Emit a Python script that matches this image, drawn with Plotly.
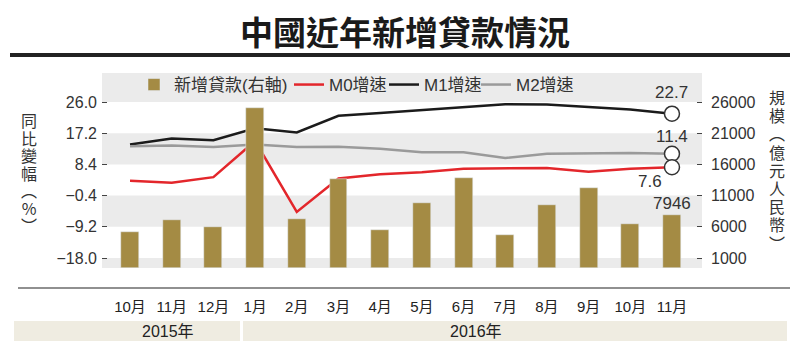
import plotly.graph_objects as go

# ---------------- data ----------------
months = ["10月", "11月", "12月", "1月", "2月", "3月", "4月", "5月", "6月", "7月", "8月", "9月", "10月", "11月"]
years = ["2015年", "2016年"]
new_loans = [5136, 7089, 5978, 25100, 7266, 13700, 5556, 9855, 13800, 4636, 9487, 12200, 6513, 7946]
m0_growth = [3.8, 3.2, 4.8, 15.0, -5.0, 4.4, 5.6, 6.2, 7.2, 7.2, 7.4, 6.3, 7.2, 7.6]
m1_growth = [14.0, 15.7, 15.2, 18.6, 17.4, 22.1, 22.9, 23.7, 24.6, 25.4, 25.3, 24.7, 23.9, 22.7]
m2_growth = [13.5, 13.7, 13.3, 14.0, 13.3, 13.4, 12.8, 11.8, 11.8, 10.2, 11.4, 11.5, 11.6, 11.4]
left_ticks = [-18.0, -9.2, -0.4, 8.4, 17.2, 26.0]
right_ticks = [1000, 6000, 11000, 16000, 21000, 26000]
title_text = "中國近年新增貸款情況"
left_title = "同比變幅︵%︶"
right_title = "規模︵億元人民幣︶"
legend_names = ["新增貸款(右軸)", "M0增速", "M1增速", "M2增速"]

# ---------------- styling ----------------
W, H = 800, 351
PL, PR, PT, PB = 102, 702, 73, 268  # plot area in pixels
BAR = "#a48b44"
RED = "#e3262b"
BLACK = "#1b1b1b"
GREY = "#9a9a9a"
BAND = "#ebebeb"
TXT = "#333333"
LAT = "Liberation Sans, Noto Sans CJK TC, sans-serif"
CJK = "Noto Sans CJK TC, sans-serif"

YL = [-20.82, 34.18]
YR = [-602, 30647]
XR = [-0.672, 13.72]


def px(x):
    return (x - PL) / (PR - PL)


def py(y):
    return (PB - y) / (PB - PT)


x = list(range(len(months)))

fig = go.Figure()
# bars start at the bottom of the plot area (axis minimum)
fig.add_trace(go.Bar(x=x, y=[v - YR[0] for v in new_loans], base=YR[0], name=legend_names[0],
                     marker_color=BAR, width=0.43, yaxis="y2", showlegend=True, legendwidth=110,
                     customdata=new_loans, hovertemplate="%{customdata}<extra></extra>"))
fig.add_trace(go.Scatter(x=x, y=m0_growth, name=legend_names[1], mode="lines", legendwidth=50,
                         line=dict(color=RED, width=2.5)))
fig.add_trace(go.Scatter(x=x, y=m1_growth, name=legend_names[2], mode="lines", legendwidth=47,
                         line=dict(color=BLACK, width=2.5)))
fig.add_trace(go.Scatter(x=x, y=m2_growth, name=legend_names[3], mode="lines",
                         line=dict(color=GREY, width=2.5)))
last = x[-1]
fig.add_trace(go.Scatter(x=[last, last, last], y=[m1_growth[-1], m2_growth[-1], m0_growth[-1]],
                         mode="markers", showlegend=False,
                         marker=dict(size=15, color="white", line=dict(color="#333", width=1.5))))

shapes = []
# grey bands between ticks
band_pairs = [(26.0, YL[1]), (8.4, 17.2), (-9.2, -0.4), (YL[0], -18.0)]
for a, b in band_pairs:
    shapes.append(dict(type="rect", xref="paper", yref="y", x0=0, x1=1, y0=a, y1=b,
                       fillcolor=BAND, line_width=0, layer="below"))
# title underline
shapes.append(dict(type="line", xref="paper", yref="paper", x0=px(10), x1=px(790), y0=py(55), y1=py(55),
                   line=dict(color="#222", width=4)))
# bottom separator line
shapes.append(dict(type="line", xref="paper", yref="paper", x0=px(18), x1=px(790), y0=py(288), y1=py(288),
                   line=dict(color="#222", width=1.2)))
# year bands
for x0, x1 in [(14, 240), (243, 787)]:
    shapes.append(dict(type="rect", xref="paper", yref="paper", x0=px(x0), x1=px(x1), y0=py(341), y1=py(321),
                       fillcolor="#efece1", line_width=0, layer="below"))

ann = []
ann.append(dict(text=f"<b>{title_text}</b>", xref="paper", yref="paper", x=px(405), y=py(31),
                showarrow=False, font=dict(family=CJK, size=33, color="#1a1a1a"),
                xanchor="center", yanchor="middle"))
ann.append(dict(text=years[0], xref="paper", yref="paper", x=px(168), y=py(331), showarrow=False,
                font=dict(family=LAT, size=16, color="#222"), xanchor="center", yanchor="middle"))
ann.append(dict(text=years[1], xref="paper", yref="paper", x=px(476), y=py(331), showarrow=False,
                font=dict(family=LAT, size=16, color="#222"), xanchor="center", yanchor="middle"))
# vertical axis titles
ann.append(dict(text="<br>".join(f'<span style="font-size:16px">{c}</span>' for c in left_title),
                xref="paper", yref="paper", x=px(29), y=py(172), showarrow=False,
                font=dict(family=CJK, size=13.5, color=TXT), xanchor="center", yanchor="middle"))
ann.append(dict(text="<br>".join(f'<span style="font-size:16px">{c}</span>' for c in right_title),
                xref="paper", yref="paper", x=px(777), y=py(170), showarrow=False,
                font=dict(family=CJK, size=14, color=TXT), xanchor="center", yanchor="middle"))
# end-value labels
lab_font = dict(family=LAT, size=17, color=TXT)
ann.append(dict(text=f"{m1_growth[-1]:.1f}", x=last, y=m1_growth[-1], xref="x", yref="y",
                showarrow=False, yshift=21, font=lab_font))
ann.append(dict(text=f"{m2_growth[-1]:.1f}", x=last, y=m2_growth[-1], xref="x", yref="y",
                showarrow=False, yshift=17, font=lab_font))
ann.append(dict(text=f"{m0_growth[-1]:.1f}", x=last, y=m0_growth[-1], xref="x", yref="y",
                showarrow=False, xshift=-22, yshift=-14, font=lab_font))
ann.append(dict(text=f"{new_loans[-1]}", x=last, y=new_loans[-1], xref="x", yref="y2",
                showarrow=False, yanchor="bottom", yshift=0, font=lab_font))

fig.update_layout(
    width=W, height=H,
    margin=dict(l=PL, r=W - PR, t=PT, b=H - PB, pad=0),
    paper_bgcolor="white", plot_bgcolor="white",
    bargap=0,
    shapes=shapes, annotations=ann,
    showlegend=True,
    legend=dict(orientation="h", x=px(134), y=py(85), xanchor="left", yanchor="middle",
                bgcolor="rgba(0,0,0,0)", font=dict(family=LAT, size=17, color=TXT),
                itemwidth=30, traceorder="normal"),
    xaxis=dict(range=XR, tickvals=x, ticktext=months, showgrid=False, zeroline=False,
               showline=False, ticks="", ticklabelstandoff=28,
               tickfont=dict(family=LAT, size=15, color="#222")),
    yaxis=dict(range=YL, tickvals=left_ticks, tickformat=".1f", showgrid=False, zeroline=False,
               showline=False, ticks="inside", ticklen=5, tickcolor="#444", tickwidth=1,
               ticklabelstandoff=4, tickfont=dict(family=LAT, size=16, color=TXT)),
    yaxis2=dict(range=YR, tickvals=right_ticks, overlaying="y", side="right", showgrid=False,
                zeroline=False, showline=False, ticks="inside", ticklen=5, tickcolor="#444",
                tickwidth=1, ticklabelstandoff=8, tickformat="d",
                tickfont=dict(family=LAT, size=16, color=TXT)),
)

fig.write_html("out.html")
